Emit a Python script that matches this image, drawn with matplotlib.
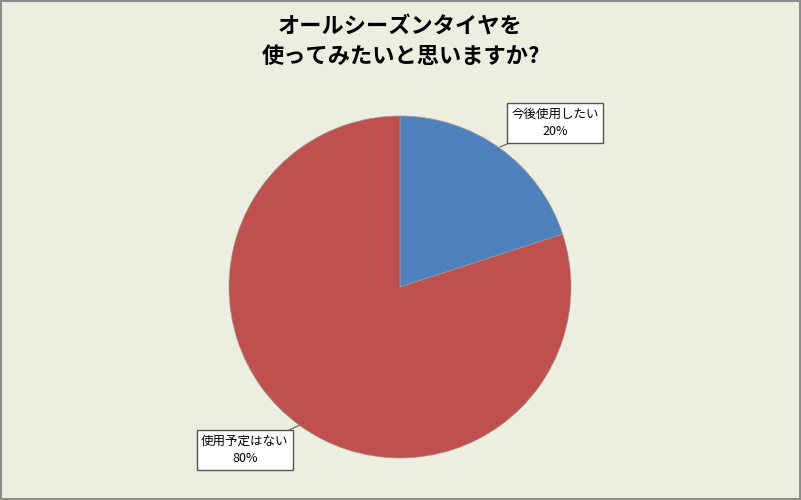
import matplotlib.pyplot as plt

plt.rcParams['font.family'] = ['Noto Sans CJK JP', 'DejaVu Sans']

title = "オールシーズンタイヤを\n使ってみたいと思いますか?"
categories = ["今後使用したい", "使用予定はない"]
shares = [20, 80]
colors = ["#4F81BD", "#C0504D"]

W, H = 801, 500
fig = plt.figure(figsize=(W / 100, H / 100), dpi=100)
fig.patch.set_facecolor("#ECEFDF")
fig.patch.set_edgecolor("#8C8C8C")
fig.patch.set_linewidth(1.5)

# pie centre (400, 287) px, radius 171 px
cx, cy, r = 400, 287, 171
ax = fig.add_axes([(cx - r) / W, (H - cy - r) / H, 2 * r / W, 2 * r / H])
ax.set_facecolor("none")

wedges, _ = ax.pie(shares, colors=colors, startangle=90, counterclock=False,
                   radius=1.0, wedgeprops=dict(linewidth=0.5, edgecolor="#9A9A9A"))
ax.set_xlim(-1, 1)
ax.set_ylim(-1, 1)
ax.set_aspect("equal")
ax.axis("off")


def px(x, y):
    return ((x - cx) / r, (cy - y) / r)


label_pos = [px(555, 123), px(245, 450)]
tip_pos = [px(500, 147), px(300, 425)]
for name, val, lp, tp in zip(categories, shares, label_pos, tip_pos):
    ax.annotate(f"{name}\n{val}%", xy=tp, xytext=lp, ha="center", va="center",
                fontsize=9, linespacing=1.45, annotation_clip=False,
                bbox=dict(boxstyle="square,pad=0.35", fc="white", ec="#555555", lw=1),
                arrowprops=dict(arrowstyle="-", color="#777777", lw=1,
                                shrinkA=0, shrinkB=0))

fig.text(0.5, 1 - 42 / H, title, ha="center", va="center", fontsize=16,
         fontweight="bold", linespacing=1.35)

fig.savefig("out.png", dpi=100, facecolor=fig.get_facecolor(),
            edgecolor=fig.get_edgecolor())
